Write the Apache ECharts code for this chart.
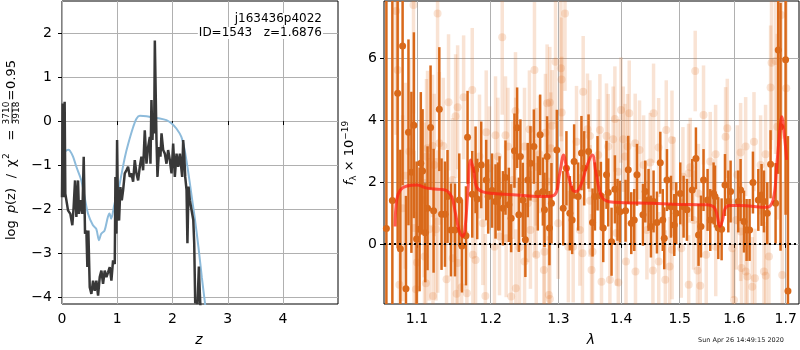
<!DOCTYPE html>
<html>
<head>
<meta charset="utf-8">
<script src="https://cdn.jsdelivr.net/npm/echarts@6/dist/echarts.min.js"></script>
<style>
html, body { margin: 0; padding: 0; background: #fff; }
#main { width: 800px; height: 350px; }
</style>
</head>
<body>
<div id="main"></div>
<script>
// left panel: redshift pdf
var zTicks = [0, 1, 2, 3, 4];
var pTicks = [-4, -3, -2, -1, 0, 1, 2];
var zBlue = [0, 0.05, 0.11, 0.14, 0.2, 0.26, 0.35, 0.41, 0.47, 0.56, 0.62, 0.67, 0.71, 0.77, 0.83, 0.86, 0.89, 0.95, 1.02, 1.08, 1.14, 1.2, 1.29, 1.35, 1.41, 1.53, 1.65, 1.77, 1.89, 1.98, 2.07, 2.16, 2.22, 2.28, 2.34, 2.4, 2.47, 2.53, 2.59, 2.64];
var pBlue = [-0.81, -0.70, -0.65, -0.67, -0.81, -1.04, -1.35, -1.73, -2.1, -2.37, -2.45, -2.71, -2.56, -2.49, -2.18, -2.1, -2.22, -1.88, -1.57, -1.19, -0.81, -0.51, -0.13, 0.06, 0.12, 0.11, 0.08, 0.06, 0.02, -0.05, -0.17, -0.36, -0.66, -1.12, -1.65, -2.18, -2.87, -3.55, -4.16, -4.7];
var zDark = [0, 0.012, 0.024, 0.036, 0.048, 0.06, 0.079, 0.109, 0.151, 0.187, 0.211, 0.236, 0.26, 0.29, 0.308, 0.338, 0.369, 0.393, 0.417, 0.441, 0.459, 0.477, 0.502, 0.532, 0.562, 0.592, 0.622, 0.653, 0.683, 0.713, 0.743, 0.773, 0.804, 0.834, 0.864, 0.894, 0.924, 0.955, 0.967, 0.985, 0.997, 1.015, 1.033, 1.057, 1.082, 1.106, 1.136, 1.166, 1.196, 1.227, 1.257, 1.287, 1.317, 1.347, 1.378, 1.408, 1.438, 1.468, 1.498, 1.529, 1.559, 1.589, 1.601, 1.619, 1.637, 1.65, 1.668, 1.68, 1.698, 1.71, 1.728, 1.758, 1.782, 1.801, 1.831, 1.861, 1.891, 1.921, 1.952, 1.982, 2.012, 2.042, 2.073, 2.103, 2.133, 2.151, 2.175, 2.193, 2.211, 2.23, 2.254, 2.27, 2.29, 2.314, 2.33, 2.376, 2.393, 2.411, 2.435, 2.453, 2.477, 2.495, 2.514];
var pDark = [-1.73, 0.40, -0.43, -1.73, 0.44, -1.65, -1.61, -2.03, -2.11, -2.37, -1.95, -1.35, -2.18, -1.35, -2.11, -1.80, -2.11, -0.81, -2.56, -2.49, -3.32, -2.49, -3.78, -3.93, -3.63, -3.86, -3.63, -3.97, -3.55, -3.40, -3.70, -3.40, -3.55, -3.44, -3.32, -3.63, -3.17, -3.25, -1.27, -2.56, -0.43, -2.18, -2.26, -1.50, -1.80, -1.57, -1.19, -1.12, -1.04, -1.27, -1.19, -1.38, -0.89, -1.19, -1.35, -1.04, -0.81, -1.12, -0.21, -0.97, -0.59, -0.36, -0.97, 0.48, -0.43, 0.02, -0.28, 1.83, 0.48, -0.43, -1.27, -0.59, -0.81, -0.28, -0.66, -0.74, -0.97, -0.66, -0.89, -1.19, -0.51, -1.27, -0.74, -1.04, -0.74, -0.97, -1.27, -0.43, -0.74, -1.27, -1.57, -2.78, -1.49, -1.80, -1.80, -2.25, -2.79, -4.14, -4.08, -4.16, -3.31, -3.93, -4.46];

// right panel: spectrum
var lamTicks = [1.1, 1.2, 1.3, 1.4, 1.5, 1.6, 1.7];
var fTicks = [0, 2, 4, 6];
var modelLam = [1.072, 1.074, 1.0786, 1.0871, 1.1, 1.113, 1.1306, 1.139, 1.146, 1.151, 1.156, 1.161, 1.164, 1.168, 1.172, 1.176, 1.18, 1.188, 1.203, 1.237, 1.278, 1.294, 1.302, 1.308, 1.313, 1.322, 1.327, 1.336, 1.344, 1.353, 1.359, 1.368, 1.38, 1.404, 1.454, 1.489, 1.549, 1.561, 1.567, 1.573, 1.578, 1.583, 1.592, 1.611, 1.662, 1.675, 1.682, 1.689, 1.692, 1.697, 1.702];
var modelFlux = [0.56, 1.42, 1.74, 1.87, 1.9, 1.8, 1.76, 1.72, 1.53, 1.0, 0.45, 0.24, 0.45, 1.64, 2.71, 2.39, 1.85, 1.69, 1.63, 1.58, 1.53, 1.58, 2.28, 2.87, 2.39, 1.74, 1.69, 1.96, 2.49, 2.87, 2.28, 1.53, 1.36, 1.33, 1.31, 1.28, 1.26, 1.2, 0.99, 0.56, 0.77, 1.15, 1.24, 1.24, 1.18, 1.42, 2.49, 3.78, 4.1, 3.57, 2.71];
// [lambda, flux, error]
var darkPts = [
  [1.061, 0.5, 9], [1.0685, 1.4, 8], [1.0752, 4.86, 5], [1.0786, -0.16, 3.2], [1.0815, 6.39, 4.5],
  [1.0858, -1.45, 3], [1.089, 3.6, 3], [1.0928, 2.31, 2.6], [1.096, 3.83, 3], [1.0995, 0.16, 2.5],
  [1.1034, 0.47, 2], [1.105, 2.6, 2.3], [1.1073, 2.35, 2], [1.1108, 0.36, 1.6], [1.1138, 1.15, 2],
  [1.1178, 3.76, 2], [1.1218, 1.07, 2], [1.1294, 4.35, 2], [1.1324, 0.96, 1.8], [1.137, 0.96, 1.7],
  [1.1404, 1.53, 1.5], [1.145, 0.45, 1.5], [1.1505, 0.45, 1.5], [1.1563, 1.42, 1.5], [1.16, -0.07, 1.5],
  [1.1655, 0.26, 1.6], [1.1677, 3.44, 1.5], [1.1742, 1.6, 1.4], [1.1788, 2.39, 1.4], [1.1811, 1.45, 1.3],
  [1.1867, 2.55, 1.4], [1.1937, 2.06, 1.3], [1.1965, 1.53, 1.2], [1.202, 1.72, 1.2], [1.2069, 1.37, 1.2],
  [1.2103, 1.53, 1.1], [1.2126, 1.63, 1.2], [1.2175, 1.15, 1.2], [1.2212, 2.14, 1.2], [1.2261, 1.26, 1.2],
  [1.2294, 0.83, 1.1], [1.2342, 3.01, 1.2], [1.2381, 3.75, 1.3], [1.2406, 0.94, 1.2], [1.2429, 2.82, 1.2],
  [1.2464, 1.42, 1.2], [1.2502, 0.13, 1.2], [1.2537, 2.06, 1.2], [1.2577, 2.6, 1.2], [1.2628, 3.14, 1.2],
  [1.2687, 1.63, 1.2], [1.2722, 3.52, 1.3], [1.2763, 1.69, 1.1], [1.2787, 1.1, 1.2], [1.2827, 2.82, 1.3],
  [1.2862, 0.51, 1.2], [1.2893, 1.31, 1.3], [1.2975, 3.03, 1.3], [1.3073, 1.15, 1.2], [1.3123, 2.44, 1.2],
  [1.3176, 0.99, 1.2], [1.3212, 0.77, 1.1], [1.3243, 2.66, 1.2], [1.3306, 1.53, 1.1], [1.3358, 2.93, 1.2],
  [1.3401, 2.44, 1.2], [1.347, 2.98, 1.2], [1.3534, 0.69, 1.1], [1.3572, 1.53, 1.1], [1.3614, 2.28, 1.2],
  [1.3668, 1.55, 1.1], [1.3706, 0.51, 1.1], [1.3759, 2.23, 1.1], [1.3787, 1.66, 1.1], [1.3841, 0.07, 1.1],
  [1.3896, 1.76, 1.1], [1.3939, 1.1, 1.0], [1.3979, 1.04, 1.0], [1.4072, 1.07, 1.0], [1.4117, 2.39, 1.1],
  [1.4167, 0.67, 1.0], [1.4217, 0.77, 1.0], [1.4263, 2.23, 1.0], [1.4364, 0.94, 1.0], [1.4403, 1.69, 1.0],
  [1.4459, 1.42, 1.0], [1.45, 0.56, 1.0], [1.4545, 1.37, 1.0], [1.4603, 0.69, 1.0], [1.4661, 2.62, 1.0],
  [1.4704, 0.77, 1.0], [1.473, 0.18, 1.0], [1.4777, 2.06, 1.0], [1.4847, 1.2, 1.0], [1.4905, 0.61, 1.0],
  [1.494, 0.99, 1.0], [1.5011, 1.63, 1.0], [1.507, 1.2, 1.0], [1.513, 1.1, 1.0], [1.5225, 1.74, 1.0],
  [1.5291, 2.76, 1.0], [1.5338, 0.29, 1.0], [1.5382, 0.56, 1.0], [1.5429, 2.06, 1.0], [1.5503, 1.42, 1.0],
  [1.5552, 0.77, 1.0], [1.5613, 1.63, 1.0], [1.5639, 1.53, 1.0], [1.57, 0.51, 1.0], [1.5762, 0.47, 1.0],
  [1.5825, 1.9, 1.0], [1.5887, 1.37, 1.0], [1.593, 1.69, 1.0], [1.6075, 1.37, 1.0], [1.6119, 1.74, 1.0],
  [1.6184, 0.72, 1.0], [1.6234, 0.45, 1.0], [1.6291, 0.45, 1.0], [1.6356, 1.98, 1.0], [1.646, 1.42, 1.0],
  [1.6523, 1.58, 1.0], [1.657, 1.37, 1.0], [1.6635, 0.99, 1.0], [1.67, 2.57, 1.1], [1.6799, 1.31, 1.3],
  [1.6852, 6.26, 4], [1.6898, 3.78, 4], [1.6999, 5.94, 5], [1.7046, -1.52, 5]
];
var lightPts = [
  [1.0732, 7.52, 4], [1.0774, -1.32, 3], [1.0815, 1.15, 3], [1.0752, 5.61, 4], [1.0851, 2.2, 3],
  [1.0902, 2.98, 3], [1.0955, 7.71, 3.5], [1.0963, 0.51, 2.5], [1.0986, -1.46, 2.5], [1.1, -0.6, 2.5],
  [1.1094, 1.42, 2.5], [1.1098, -0.41, 2.5], [1.1116, -1.27, 2.5], [1.1124, 2.82, 2.5], [1.1138, 3.09, 2.5],
  [1.116, 0.47, 2.3], [1.1204, 3.16, 2.3], [1.121, -1.68, 2.3], [1.1227, 2.55, 2.3], [1.125, 0.47, 2.3],
  [1.1271, 7.44, 3], [1.1273, 0.72, 2.3], [1.1294, 3.25, 2.3], [1.1347, 3.16, 2.2], [1.1391, -1.14, 2.2],
  [1.1418, 4.57, 2.2], [1.1471, 2.06, 2], [1.1473, -0.46, 2], [1.1513, 4.12, 2], [1.1527, -1.61, 2],
  [1.1541, 4.41, 2], [1.1543, -0.62, 2], [1.1595, -1.4, 2], [1.1623, 4.73, 2], [1.1668, -1.59, 2],
  [1.1742, 4.97, 2], [1.1751, -0.35, 2], [1.1788, -0.52, 2], [1.1843, 2.82, 2], [1.189, 0.67, 2],
  [1.1925, -1.68, 2], [1.1937, 3.6, 2], [1.1983, 2.44, 2], [1.2054, -0.09, 1.9], [1.2069, 3.51, 1.9],
  [1.2103, 2.82, 1.9], [1.2126, 0.24, 1.9], [1.2165, 6.67, 2.5], [1.2212, 3.51, 1.9], [1.2222, 0.18, 1.9],
  [1.2247, 3.14, 1.9], [1.2294, -1.7, 1.9], [1.2319, 2.06, 1.9], [1.2357, 4.29, 1.9], [1.236, 2.82, 1.9],
  [1.2362, -1.43, 1.9], [1.2415, -0.11, 1.9], [1.2489, 3.14, 1.9], [1.249, -0.57, 1.9], [1.2537, 1.31, 1.9],
  [1.2562, 3.7, 1.9], [1.2577, 0.45, 1.9], [1.2637, 5.61, 2.2], [1.2639, 1.47, 1.9], [1.2662, 2.49, 1.9],
  [1.2664, -0.35, 1.9], [1.2712, 2.89, 1.9], [1.2778, -0.84, 1.9], [1.2787, -0.25, 1.9], [1.2802, 3.59, 1.9],
  [1.2827, 4.54, 1.9], [1.2838, 2.01, 1.9], [1.2853, -1.65, 1.9], [1.2869, -1.78, 1.8], [1.2868, 4.56, 1.8],
  [1.2883, 3.09, 1.8], [1.2904, 3.81, 1.8], [1.2955, 5.88, 2], [1.2996, 0.67, 1.8], [1.3038, 5.67, 2.2],
  [1.3048, 5.31, 2], [1.305, 4.24, 1.8], [1.3101, 7.44, 2.5], [1.3153, -0.09, 1.8], [1.3228, -0.09, 1.8],
  [1.328, 3.3, 1.8], [1.3333, 0.45, 1.8], [1.3374, -0.3, 1.8], [1.3385, 4.91, 1.8], [1.3453, 3.7, 1.8],
  [1.3492, 3.48, 1.8], [1.3494, 1.39, 1.8], [1.3518, -0.84, 1.8], [1.3534, -0.25, 1.8], [1.3625, 2.87, 1.8],
  [1.3652, 3.68, 1.8], [1.3678, -1.22, 1.8], [1.3759, 3.48, 1.7], [1.3787, 3.14, 1.7], [1.3814, -1.16, 1.7],
  [1.3868, 3.38, 1.7], [1.3896, 4.03, 1.7], [1.3923, 0.35, 1.7], [1.395, 2.33, 1.7], [1.3952, -1.25, 1.7],
  [1.3996, 4.32, 1.7], [1.4034, 3.38, 1.7], [1.4062, 2.82, 1.7], [1.4079, -0.57, 1.7], [1.4105, 3.14, 1.7],
  [1.4133, 4.22, 1.7], [1.4233, 3.25, 1.6], [1.4238, -0.89, 1.6], [1.4306, 3.03, 1.6], [1.4375, 2.55, 1.6],
  [1.4431, 0.45, 1.6], [1.4488, 2.63, 1.6], [1.4534, -0.86, 1.6], [1.4545, 4.22, 1.6], [1.4632, 3.11, 1.6],
  [1.4634, -0.57, 1.6], [1.4748, -1.16, 1.6], [1.4765, 3.68, 1.6], [1.4823, -0.73, 1.6], [1.4865, 3.35, 1.6],
  [1.4867, -0.19, 1.6], [1.4893, 1.85, 1.6], [1.5029, -0.14, 1.6], [1.5058, 2.17, 1.6], [1.5159, 2.28, 1.6],
  [1.5161, -1.32, 1.6], [1.5189, 2.47, 1.6], [1.5247, 0.77, 1.6], [1.5278, 5.58, 1.3], [1.5319, -0.86, 1.6],
  [1.5337, 1.63, 1.6], [1.5369, -1.35, 1.6], [1.5429, 4.16, 1.6], [1.5478, -0.35, 1.6], [1.5552, 2.66, 1.6],
  [1.5651, 2.89, 1.6], [1.5653, -0.09, 1.6], [1.5836, 3.46, 1.6], [1.5868, 3.73, 1.6], [1.5962, -0.14, 1.6],
  [1.5994, -1.81, 1.6], [1.6037, 0.77, 1.6], [1.6056, 2.23, 1.6], [1.6119, 2.95, 1.6], [1.6121, 0.4, 1.6],
  [1.6138, -0.78, 1.6], [1.6216, 3.14, 1.6], [1.6218, -0.89, 1.6], [1.6248, -1.05, 1.6], [1.6343, -1.38, 1.6],
  [1.6376, 3.3, 1.6], [1.6394, -1.11, 1.6], [1.6504, 2.55, 1.6], [1.657, -0.89, 1.6], [1.6602, 2.89, 1.6],
  [1.6604, -1.03, 1.6], [1.6668, -0.41, 1.6], [1.67, 5.05, 2], [1.6719, 5.85, 2.5], [1.6799, 5.9, 3],
  [1.6832, 3.78, 3], [1.6912, 7.39, 4], [1.6932, -1.0, 3], [1.7012, 5.02, 3]
];

var chart = echarts.init(document.getElementById('main'));
var font = 'DejaVu Sans';
var gridColor = '#b0b0b0';
var orange = '#d9691a';
var lightOrange = 'rgba(225,115,40,0.2)';

var minus = function (v) {
  var s = String(Math.round(v * 100) / 100);
  return s.replace('-', '\u2212');
};

var errRender = function (color, lw, r) {
  return function (params, api) {
    var cs = params.coordSys;
    var x = api.value(0), y = api.value(1), e = api.value(2);
    var p = api.coord([x, y]);
    var t = api.coord([x, y + e]);
    var b = api.coord([x, y - e]);
    var y0 = Math.max(t[1], cs.y), y1 = Math.min(b[1], cs.y + cs.height);
    var kids = [];
    if (y1 > y0) {
      kids.push({ type: 'line', shape: { x1: p[0], y1: y0, x2: p[0], y2: y1 }, style: { stroke: color, lineWidth: lw } });
    }
    if (p[1] >= cs.y && p[1] <= cs.y + cs.height) {
      kids.push({ type: 'circle', shape: { cx: p[0], cy: p[1], r: r }, style: { fill: color } });
    }
    return { type: 'group', children: kids };
  };
};

var axisCommon = {
  axisLine: { show: false },
  axisTick: { show: true, length: 4, lineStyle: { color: '#000' } },
  splitLine: { show: true, lineStyle: { color: gridColor, width: 1 } },
  axisLabel: { color: '#000', fontFamily: font, fontSize: 14 }
};
var mk = function (extra) {
  var o = JSON.parse(JSON.stringify(axisCommon));
  for (var k in extra) {
    if (typeof extra[k] === 'object' && o[k] && !Array.isArray(extra[k])) {
      for (var j in extra[k]) o[k][j] = extra[k][j];
    } else {
      o[k] = extra[k];
    }
  }
  return o;
};

var xLeft = mk({ type: 'value', gridIndex: 0, min: 0, max: 4.995,
  axisTick: { customValues: zTicks }, axisLabel: { customValues: zTicks, margin: 8 } });
var yLeft = mk({ type: 'value', gridIndex: 0, min: -4.16, max: 2.73,
  axisTick: { customValues: pTicks }, axisLabel: { customValues: pTicks, margin: 10 } });
xLeft.axisLabel.formatter = minus;
yLeft.axisLabel.formatter = minus;

var lamLog = lamTicks.map(function (v) { return Math.log10(v); });
var xRight = mk({ type: 'value', gridIndex: 1, min: Math.log10(1.058), max: Math.log10(1.727),
  axisTick: { customValues: lamLog }, axisLabel: { customValues: lamLog, margin: 8 } });
xRight.axisLabel.formatter = function (v) { return Math.pow(10, v).toFixed(1); };
var yRight = mk({ type: 'value', gridIndex: 1, min: -1.94, max: 7.84,
  axisTick: { customValues: fTicks }, axisLabel: { customValues: fTicks, margin: 7 } });
yRight.axisLabel.formatter = minus;

var toXY = function (xs, ys) {
  return xs.map(function (x, i) { return [x, ys[i]]; });
};
var toLog = function (pts) {
  return pts.map(function (p) { return [Math.log10(p[0]), p[1], p[2]]; });
};

var txt = function (s, x, y, size, extra) {
  var st = { text: s, font: size + 'px "DejaVu Sans"', fill: '#000', textAlign: 'left', textVerticalAlign: 'middle' };
  for (var k in extra) st[k] = extra[k];
  return { type: 'text', x: x, y: y, style: st };
};

var option = {
  animation: false,
  backgroundColor: '#fff',
  grid: [
    { left: 62, top: 1, width: 276, height: 303, show: true, borderColor: '#000', borderWidth: 1, backgroundColor: 'transparent' },
    { left: 384, top: 1, width: 415, height: 303, show: true, borderColor: '#000', borderWidth: 1, backgroundColor: 'transparent' }
  ],
  xAxis: [xLeft, xRight],
  yAxis: [yLeft, yRight],
  series: [
    { type: 'line', xAxisIndex: 0, yAxisIndex: 0, data: toXY(zBlue, pBlue), showSymbol: false, smooth: 0.3,
      lineStyle: { color: '#8dbbdb', width: 2 }, z: 2 },
    { type: 'line', xAxisIndex: 0, yAxisIndex: 0, data: toXY(zDark, pDark), showSymbol: false,
      lineStyle: { color: '#383838', width: 2.5 }, z: 3 },
    { type: 'custom', xAxisIndex: 1, yAxisIndex: 1, data: toLog(lightPts), renderItem: errRender(lightOrange, 3.5, 4),
      encode: { x: 0, y: 1 }, z: 2 },
    { type: 'custom', xAxisIndex: 1, yAxisIndex: 1, data: toLog(darkPts), renderItem: errRender(orange, 2.5, 3.5),
      encode: { x: 0, y: 1 }, z: 3 },
    { type: 'line', xAxisIndex: 1, yAxisIndex: 1,
      data: modelLam.map(function (l, i) { return [Math.log10(l), modelFlux[i]]; }),
      showSymbol: false, smooth: 0.4, lineStyle: { color: 'rgba(255,30,20,0.72)', width: 3 }, z: 4,
      markLine: { silent: true, symbol: 'none', label: { show: false }, data: [{ yAxis: 0 }],
        lineStyle: { color: '#000', type: [2, 3], width: 2 } } }
  ],
  graphic: [
    { type: 'text', right: 477, top: 13, z: 100, style: { text: 'j163436p4022', font: '12px "DejaVu Sans"', fill: '#000', backgroundColor: '#fff', padding: [0, 1] } },
    { type: 'text', right: 477, top: 27, z: 100, style: { text: 'ID=1543   z=1.6876', font: '12px "DejaVu Sans"', fill: '#000', backgroundColor: '#fff', padding: [0, 1] } },
    txt('z', 199, 340, 14, { font: 'italic 14px "DejaVu Sans"', textAlign: 'center' }),
    txt('\u03bb', 591, 340, 14, { font: 'italic 14px "DejaVu Sans"', textAlign: 'center' }),
    txt('Sun Apr 26 14:49:15 2020', 741, 340, 6.5, { textAlign: 'center', fill: '#222' }),
    { type: 'text', x: 350, y: 153, rotation: Math.PI / 2,
      style: { text: '{i|f}{s|\u03bb} \u00d7 10{u|\u221219}', font: '13px "DejaVu Sans"', fill: '#000', textAlign: 'center', textVerticalAlign: 'middle',
        rich: {
          i: { fontStyle: 'italic', fontSize: 13, fontFamily: font },
          s: { fontSize: 9, fontFamily: font, padding: [8, 0, 0, 0] },
          u: { fontSize: 9, fontFamily: font, padding: [0, 0, 8, 0] }
        } } },
    { type: 'group', x: 12, y: 240, rotation: Math.PI / 2, children: [
      txt('log', 0, 0, 13),
      txt('p', 27, 0, 13, { font: 'italic 13px "DejaVu Sans"' }),
      txt('(z)', 35, 0, 13),
      txt('/', 64, 0, 13, { textAlign: 'center' }),
      txt('\u03c7', 73, 0, 13),
      txt('2', 81, -5, 9),
      txt('=', 105, 0, 13, { textAlign: 'center' }),
      txt('3710', 127, -5, 9, { textAlign: 'center' }),
      { type: 'line', shape: { x1: 117, y1: 0, x2: 137, y2: 0 }, style: { stroke: '#000', lineWidth: 0.8 } },
      txt('3918', 127, 5, 9, { textAlign: 'center' }),
      txt('=', 145, 0, 13, { textAlign: 'center' }),
      txt('0.95', 151, 0, 13)
    ] }
  ]
};
chart.setOption(option);
</script>
</body>
</html>
